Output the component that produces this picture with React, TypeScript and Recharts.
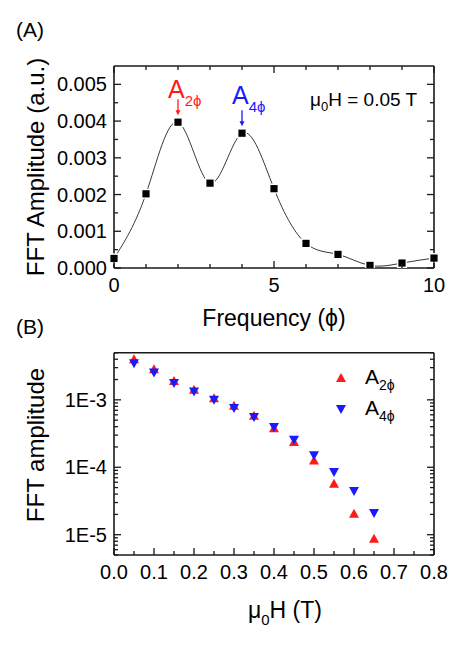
import React from 'react';
import {
  ComposedChart, ScatterChart, Line, Scatter, XAxis, YAxis, ReferenceDot, Label, Legend,
} from 'recharts';

const FONT = "'Liberation Sans', Arial, Helvetica, sans-serif";
const AXIS = '#1a1a1a';

// (A) FFT spectrum at 0.05 T
const freq = [0, 1, 2, 3, 4, 5, 6, 7, 8, 9, 10];
const fftAmp = [0.00026, 0.00202, 0.00397, 0.00231, 0.00367, 0.00216, 0.00067, 0.00037, 0.00007, 0.000135, 0.00027];
const freqTicks = [0, 1, 2, 3, 4, 5, 6, 7, 8, 9, 10];
const ampTicks = [0, 0.0005, 0.001, 0.0015, 0.002, 0.0025, 0.003, 0.0035, 0.004, 0.0045, 0.005];
const peaks = [
  { f: 2, a: 0.00397, sub: '2ϕ', color: '#ff1a1a', lift: 24 },
  { f: 4, a: 0.00367, sub: '4ϕ', color: '#1a1aff', lift: 29 },
];

// (B) peak amplitudes vs field
const field = [0.05, 0.1, 0.15, 0.2, 0.25, 0.3, 0.35, 0.4, 0.45, 0.5, 0.55, 0.6, 0.65];
const a2phi = [4.0e-3, 2.85e-3, 1.91e-3, 1.41e-3, 1.06e-3, 8.15e-4, 5.8e-4, 3.8e-4, 2.36e-4, 1.26e-4, 5.7e-5, 2.05e-5, 8.7e-6];
const a4phi = [3.5e-3, 2.54e-3, 1.77e-3, 1.33e-3, 1.0e-3, 7.55e-4, 5.55e-4, 3.94e-4, 2.55e-4, 1.51e-4, 8.5e-5, 4.45e-5, 2.1e-5];
const fieldTicks = [0, 0.05, 0.1, 0.15, 0.2, 0.25, 0.3, 0.35, 0.4, 0.45, 0.5, 0.55, 0.6, 0.65, 0.7, 0.75, 0.8];
const logTicks = [
  5e-6, 6e-6, 7e-6, 8e-6, 9e-6,
  1e-5, 2e-5, 3e-5, 4e-5, 5e-5, 6e-5, 7e-5, 8e-5, 9e-5,
  1e-4, 2e-4, 3e-4, 4e-4, 5e-4, 6e-4, 7e-4, 8e-4, 9e-4,
  1e-3, 2e-3, 3e-3, 4e-3, 5e-3,
];
const logLabels: Record<string, string> = { '0.00001': '1E-5', '0.0001': '1E-4', '0.001': '1E-3' };

const rowsA = freq.map((f, i) => ({ f, a: fftAmp[i] }));
const rowsA2 = field.map((h, i) => ({ h, v: a2phi[i] }));
const rowsA4 = field.map((h, i) => ({ h, v: a4phi[i] }));

const isMajorA_x = (v: number) => v % 5 === 0;
const isMajorA_y = (v: number) => Math.round(v * 10000) % 10 === 0;
const isMajorB_x = (v: number) => Math.round(v * 100) % 10 === 0;
const isMajorB_y = (v: number) => Math.abs(Math.log10(v) - Math.round(Math.log10(v))) < 1e-6;

function AxisTick(props: any) {
  const { x, y, payload, side, major, format } = props;
  const v = payload.value;
  const big = major(v);
  const len = big ? 7 : 4;
  let ln = null;
  if (side === 'bottom') ln = <line x1={x} y1={y} x2={x} y2={y - len} />;
  if (side === 'top') ln = <line x1={x} y1={y} x2={x} y2={y + len} />;
  if (side === 'left') ln = <line x1={x} y1={y} x2={x + len} y2={y} />;
  if (side === 'right') ln = <line x1={x} y1={y} x2={x - len} y2={y} />;
  const txt = big && format ? format(v) : null;
  return (
    <g>
      <g stroke={AXIS} strokeWidth={1.3}>{ln}</g>
      {txt && side === 'bottom' && (
        <text x={x} y={y + 24} textAnchor="middle" fontSize={20} fontFamily={FONT} fill="#000">{txt}</text>
      )}
      {txt && side === 'left' && (
        <text x={x - 7} y={y + 7} textAnchor="end" fontSize={20} fontFamily={FONT} fill="#000">{txt}</text>
      )}
    </g>
  );
}

const SquareDot = (p: any) => {
  const { cx, cy, index } = p;
  if (cx == null || cy == null) return <g key={index} />;
  return (
    <g key={index}>
      <rect x={cx - 5} y={cy - 5} width={10} height={10} fill="#fff" />
      <rect x={cx - 3.6} y={cy - 3.6} width={7.2} height={7.2} fill="#000" />
    </g>
  );
};

const UpTri = (p: any) => {
  const { cx, cy, fill } = p;
  return <path d={`M${cx},${cy - 5} L${cx + 5},${cy + 4} L${cx - 5},${cy + 4} Z`} fill={fill} />;
};
const DownTri = (p: any) => {
  const { cx, cy, fill } = p;
  return <path d={`M${cx},${cy + 5} L${cx + 5},${cy - 4} L${cx - 5},${cy - 4} Z`} fill={fill} />;
};

const PeakMark = (pk: typeof peaks[number]) => (p: any) => {
  const { cx, cy } = p;
  const tip = cy - 7;
  const top = tip - 16;
  return (
    <g>
      <line x1={cx} y1={top} x2={cx} y2={tip - 4} stroke={pk.color} strokeWidth={1.3} />
      <path d={`M${cx - 2.5},${tip - 5} L${cx + 2.5},${tip - 5} L${cx},${tip} Z`} fill={pk.color} />
      <text x={cx - 10} y={cy - pk.lift} fontSize={25} fontFamily={FONT} fill={pk.color}>
        A<tspan fontSize={15} dy={8}>{pk.sub}</tspan>
      </text>
    </g>
  );
};

const axisLine = { stroke: AXIS, strokeWidth: 1.6 };

function PanelA() {
  return (
    <ComposedChart width={457} height={336} data={rowsA} margin={{ top: 65, right: 22, bottom: 28, left: 54 }}>
      <XAxis xAxisId="b" dataKey="f" type="number" domain={[0, 10]} ticks={freqTicks} interval={0}
        tickSize={0} tickMargin={0} tickLine={false} axisLine={axisLine} height={40}
        tick={(p: any) => <AxisTick {...p} side="bottom" major={isMajorA_x} format={(v: number) => String(v)} />}>
        <Label content={(lp: any) => {
          const vb = lp.viewBox;
          return (
            <text x={vb.x + vb.width / 2} y={vb.y + 58} textAnchor="middle" fontSize={23} fontFamily={FONT} fill="#000">
              Frequency (ϕ)
            </text>
          );
        }} />
      </XAxis>
      <XAxis xAxisId="t" orientation="top" dataKey="f" type="number" domain={[0, 10]} ticks={freqTicks} interval={0}
        tickSize={0} tickMargin={0} tickLine={false} axisLine={axisLine} height={1}
        tick={(p: any) => <AxisTick {...p} side="top" major={isMajorA_x} />} />
      <YAxis yAxisId="l" type="number" domain={[0, 0.0055]} ticks={ampTicks} interval={0} allowDataOverflow
        tickSize={0} tickMargin={0} tickLine={false} axisLine={axisLine} width={60}
        tick={(p: any) => <AxisTick {...p} side="left" major={isMajorA_y} format={(v: number) => v.toFixed(3)} />}>
        <Label content={(lp: any) => {
          const vb = lp.viewBox;
          const cx = vb.x - 19;
          const cy = vb.y + vb.height / 2;
          return (
            <text x={cx} y={cy} transform={`rotate(-90, ${cx}, ${cy})`} textAnchor="middle" dominantBaseline="central"
              fontSize={24} fontFamily={FONT} fill="#000">
              FFT Amplitude (a.u.)
            </text>
          );
        }} />
      </YAxis>
      <YAxis yAxisId="r" orientation="right" type="number" domain={[0, 0.0055]} ticks={ampTicks} interval={0}
        allowDataOverflow tickSize={0} tickMargin={0} tickLine={false} axisLine={axisLine} width={1}
        tick={(p: any) => <AxisTick {...p} side="right" major={isMajorA_y} />} />
      <Line xAxisId="b" yAxisId="l" dataKey="a" type="natural" stroke="#3a3a3a" strokeWidth={1}
        dot={SquareDot} activeDot={false} isAnimationActive={false} />
      {peaks.map((pk) => (
        <ReferenceDot key={pk.sub} xAxisId="b" yAxisId="l" x={pk.f} y={pk.a} shape={PeakMark(pk)} />
      ))}
    </ComposedChart>
  );
}

function LegendBox() {
  const rows = [
    { sub: '2ϕ', color: '#ff1a1a', Icon: UpTri },
    { sub: '4ϕ', color: '#1a1aff', Icon: DownTri },
  ];
  return (
    <div style={{ fontFamily: FONT }}>
      {rows.map((r) => (
        <div key={r.sub} style={{ display: 'flex', alignItems: 'center', height: 31 }}>
          <svg width={16} height={16}>
            <r.Icon cx={8} cy={8} fill={r.color} />
          </svg>
          <span style={{ marginLeft: 16, fontSize: 21, color: '#000', lineHeight: '21px' }}>
            A<span style={{ fontSize: 14, position: 'relative', top: 6 }}>{r.sub}</span>
          </span>
        </div>
      ))}
    </div>
  );
}

function PanelB() {
  return (
    <ScatterChart width={457} height={317} margin={{ top: 15.7, right: 22, bottom: 58, left: 54 }}>
      <XAxis xAxisId="b" dataKey="h" type="number" domain={[0, 0.8]} ticks={fieldTicks} interval={0}
        tickSize={0} tickMargin={0} tickLine={false} axisLine={axisLine} height={40}
        tick={(p: any) => <AxisTick {...p} side="bottom" major={isMajorB_x} format={(v: number) => v.toFixed(1)} />}>
        <Label content={(lp: any) => {
          const vb = lp.viewBox;
          return (
            <text x={vb.x + vb.width / 2 + 11} y={vb.y + 63} textAnchor="middle" fontSize={23} fontFamily={FONT} fill="#000">
              μ<tspan fontSize={15} dy={7}>0</tspan><tspan dy={-7}>H (T)</tspan>
            </text>
          );
        }} />
      </XAxis>
      <XAxis xAxisId="t" orientation="top" dataKey="h" type="number" domain={[0, 0.8]} ticks={fieldTicks} interval={0}
        tickSize={0} tickMargin={0} tickLine={false} axisLine={axisLine} height={1}
        tick={(p: any) => <AxisTick {...p} side="top" major={isMajorB_x} />} />
      <YAxis yAxisId="l" dataKey="v" type="number" scale="log" domain={[5e-6, 5e-3]} ticks={logTicks} interval={0}
        allowDataOverflow tickSize={0} tickMargin={0} tickLine={false} axisLine={axisLine} width={60}
        tick={(p: any) => <AxisTick {...p} side="left" major={isMajorB_y}
          format={(v: number) => logLabels[String(v)] ?? ''} />}>
        <Label content={(lp: any) => {
          const vb = lp.viewBox;
          const cx = vb.x - 19;
          const cy = 109;
          return (
            <text x={cx} y={cy} transform={`rotate(-90, ${cx}, ${cy})`} textAnchor="middle" dominantBaseline="central"
              fontSize={24} fontFamily={FONT} fill="#000">
              FFT amplitude
            </text>
          );
        }} />
      </YAxis>
      <YAxis yAxisId="r" orientation="right" dataKey="v" type="number" scale="log" domain={[5e-6, 5e-3]} ticks={logTicks}
        interval={0} allowDataOverflow tickSize={0} tickMargin={0} tickLine={false} axisLine={axisLine} width={1}
        tick={(p: any) => <AxisTick {...p} side="right" major={isMajorB_y} />} />
      <Legend layout="vertical" align="center" verticalAlign="middle"
        wrapperStyle={{ left: 333, top: 26, width: 'auto', height: 'auto' }}
        content={() => <LegendBox />} />
      <Scatter name="A2ϕ" xAxisId="b" yAxisId="l" data={rowsA2} fill="#ff1a1a" shape={UpTri} isAnimationActive={false} />
      <Scatter name="A4ϕ" xAxisId="b" yAxisId="l" data={rowsA4} fill="#1a1aff" shape={DownTri} isAnimationActive={false} />
    </ScatterChart>
  );
}

export default function App() {
  return (
    <div style={{ position: 'absolute', left: 0, top: 0, width: 457, height: 653, background: '#fff' }}>
      <div style={{ position: 'absolute', left: 0, top: 0 }}>
        <PanelA />
      </div>
      <div style={{ position: 'absolute', left: 0, top: 336 }}>
        <PanelB />
      </div>
      <svg width={457} height={653} style={{ position: 'absolute', left: 0, top: 0, pointerEvents: 'none' }}>
        <g fontFamily={FONT} fill="#000">
          <text x={16} y={37} fontSize={21}>(A)</text>
          <text x={16} y={334} fontSize={21}>(B)</text>
          <text x={310} y={106} fontSize={19}>
            μ<tspan fontSize={13} dy={5}>0</tspan><tspan dy={-5}>H = 0.05 T</tspan>
          </text>
        </g>
      </svg>
    </div>
  );
}
